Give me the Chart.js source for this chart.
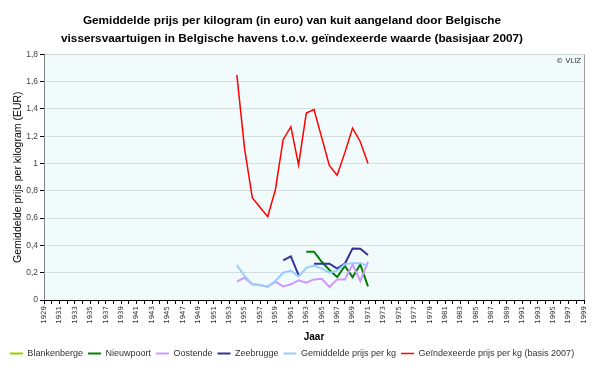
<!DOCTYPE html>
<html>
<head>
<meta charset="utf-8">
<script src="https://cdn.jsdelivr.net/npm/chart.js@4.4.1/dist/chart.umd.min.js"></script>
<style>
  html, body { margin: 0; padding: 0; background: #fff; }
  #wrap { width: 600px; height: 368px; }
</style>
</head>
<body>
<div id="wrap"><canvas id="kuit-chart" width="600" height="368"></canvas></div>
<script>
// category axis: 1929 .. 1999
const years = [];
for (let y = 1929; y <= 1999; y++) years.push(String(y));

// series values, starting in firstYear
const firstYear = 1954;
const blankenberge = [];
const nieuwpoort = [null, null, null, null, null, null, null, null, null, 0.354, 0.354, 0.28, 0.22, 0.168, 0.25, 0.168, 0.26, 0.1];
const oostende = [0.135, 0.164, 0.115, 0.11, 0.098, 0.135, 0.10, 0.115, 0.144, 0.127, 0.151, 0.156, 0.095, 0.151, 0.15, 0.26, 0.14, 0.28];
const zeebrugge = [null, null, null, null, null, null, 0.29, 0.32, 0.183, null, 0.266, 0.266, 0.266, 0.23, 0.266, 0.378, 0.376, 0.33];
const gemiddeld = [0.256, 0.176, 0.115, 0.11, 0.098, 0.139, 0.2, 0.215, 0.172, 0.236, 0.252, 0.23, 0.2, 0.215, 0.263, 0.27, 0.27, 0.25];
const geindexeerd = [1.65, 1.11, 0.75, 0.68, 0.61, 0.81, 1.175, 1.27, 0.99, 1.37, 1.395, 1.19, 0.985, 0.915, 1.08, 1.26, 1.16, 1.0];

function onYears(vals) {
  const out = years.map(() => null);
  const start = years.indexOf(String(firstYear));
  vals.forEach((v, i) => { out[start + i] = v; });
  return out;
}

function fmt(v) {
  return String(Math.round(v * 10) / 10).replace('.', ',');
}

const plotDeco = {
  id: 'plotDeco',
  beforeDatasetsDraw(c) {
    const { ctx, chartArea: { left, right, top, bottom } } = c;
    ctx.save();
    ctx.fillStyle = 'rgba(230,248,248,0.55)';
    ctx.fillRect(left, top, right - left, bottom - top);
    ctx.strokeStyle = '#a0a0a0';
    ctx.lineWidth = 1;
    ctx.beginPath();
    ctx.moveTo(Math.round(right) + 0.5, top);
    ctx.lineTo(Math.round(right) + 0.5, bottom);
    ctx.stroke();
    ctx.restore();
  },
  afterDraw(c) {
    const { ctx, chartArea: { right, top } } = c;
    ctx.save();
    ctx.fillStyle = '#333';
    ctx.font = '7px "DejaVu Sans"';
    ctx.textAlign = 'right';
    ctx.textBaseline = 'top';
    ctx.fillText('© VLIZ', right - 3, top + 3);
    ctx.restore();
  }
};

function ds(label, vals, color, width, order) {
  return {
    label,
    data: onYears(vals),
    borderColor: color,
    backgroundColor: color,
    borderWidth: width,
    pointRadius: 0,
    tension: 0,
    spanGaps: false,
    order
  };
}

new Chart(document.getElementById('kuit-chart'), {
  type: 'line',
  data: {
    labels: years,
    datasets: [
      ds('Blankenberge', blankenberge, '#99cc00', 2, 6),
      ds('Nieuwpoort', nieuwpoort, '#008000', 2, 5),
      ds('Oostende', oostende, '#cc99ff', 2, 4),
      ds('Zeebrugge', zeebrugge, '#333399', 2, 3),
      ds('Gemiddelde prijs per kg', gemiddeld, '#99ccff', 2, 2),
      ds('Geïndexeerde prijs per kg (basis 2007)', geindexeerd, '#ff0000', 1.5, 1)
    ]
  },
  options: {
    responsive: false,
    animation: false,
    layout: { padding: { left: 0, right: 16, top: 0, bottom: 0 } },
    plugins: {
      title: {
        display: true,
        text: ['Gemiddelde prijs per kilogram (in euro) van kuit aangeland door Belgische',
               'vissersvaartuigen in Belgische havens t.o.v. geïndexeerde waarde (basisjaar 2007)'],
        color: '#000',
        font: { family: 'Liberation Sans', size: 11.8, weight: 'bold', lineHeight: 1.5 },
        padding: { top: 12, bottom: 7 }
      },
      legend: {
        position: 'bottom',
        labels: {
          color: '#333',
          font: { family: 'Liberation Sans', size: 9 },
          usePointStyle: true,
          pointStyle: 'line',
          pointStyleWidth: 13,
          boxHeight: 9,
          padding: 5,
          sort: (a, b) => a.datasetIndex - b.datasetIndex
        }
      },
      tooltip: { enabled: false }
    },
    scales: {
      x: {
        offset: false,
        grid: { drawOnChartArea: false, drawTicks: true, tickLength: 4, tickColor: '#000' },
        border: { color: '#000' },
        ticks: {
          autoSkip: false,
          maxRotation: 90,
          minRotation: 90,
          padding: 2,
          color: '#333',
          font: { family: 'DejaVu Sans', size: 7 },
          callback: function (v, i) { return (1929 + i) % 2 === 1 ? years[i] : ''; }
        },
        title: {
          display: true,
          text: 'Jaar',
          color: '#000',
          font: { family: 'Liberation Sans', size: 10, weight: 'bold' },
          padding: { top: 4, bottom: 1 }
        },
        afterFit(scale) { scale.height = 44; }
      },
      y: {
        min: 0,
        max: 1.8,
        grid: { color: '#c0c0c0', tickLength: 4, tickColor: '#000' },
        border: { color: '#000' },
        ticks: {
          stepSize: 0.2,
          padding: 2,
          color: '#444',
          font: { family: 'Liberation Sans', size: 8.5 },
          callback: v => fmt(v)
        },
        title: {
          display: true,
          text: 'Gemiddelde prijs per kilogram (EUR)',
          color: '#000',
          font: { family: 'Liberation Sans', size: 10.5 },
          padding: { top: 12, bottom: 0 }
        },
        afterFit(scale) { scale.width = 44; }
      }
    }
  },
  plugins: [plotDeco]
});
</script>
</body>
</html>
